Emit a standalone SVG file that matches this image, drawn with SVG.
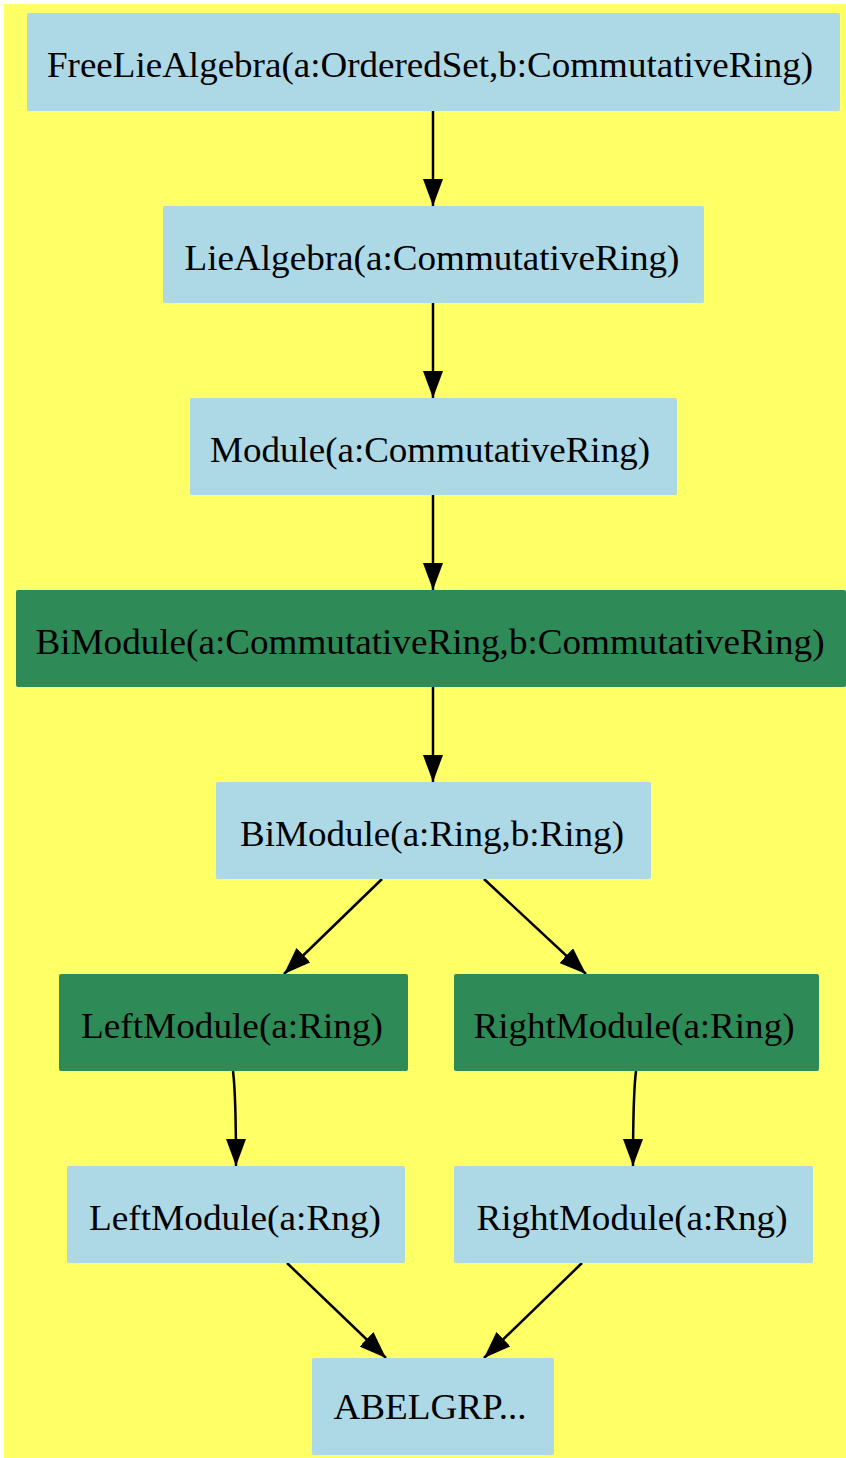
<svg xmlns="http://www.w3.org/2000/svg" width="846" height="1458" viewBox="0 0 846 1458">
<style>
.bg{fill:#ffff66}
.lb{fill:#add8e6}
.sg{fill:#2e8b57}
text{font-family:"Liberation Serif","Times New Roman",serif;font-size:36px;fill:#000;text-anchor:middle}
.e{fill:none;stroke:#000;stroke-width:2.5}
</style>
<defs>
<marker id="ah" viewBox="0 0 27 20" refX="27" refY="10" markerWidth="27" markerHeight="20" markerUnits="userSpaceOnUse" orient="auto">
<path d="M0,0 L27,10 L0,20 Z" fill="#000"/>
</marker>
</defs>
<rect class="bg" x="4" y="4" width="842" height="1454"/>
<g id="edges">
<path class="e" d="M433,111 L433,206" marker-end="url(#ah)"/>
<path class="e" d="M433,303 L433,398" marker-end="url(#ah)"/>
<path class="e" d="M433,495 L433,590" marker-end="url(#ah)"/>
<path class="e" d="M433,687 L433,782" marker-end="url(#ah)"/>
<path class="e" d="M382,879 L284,974" marker-end="url(#ah)"/>
<path class="e" d="M484,879 L586,974" marker-end="url(#ah)"/>
<path class="e" d="M233,1071 C236,1095 236,1130 236,1166" marker-end="url(#ah)"/>
<path class="e" d="M636,1071 C633,1095 633,1130 633,1166" marker-end="url(#ah)"/>
<path class="e" d="M287,1263 L386,1358" marker-end="url(#ah)"/>
<path class="e" d="M582,1263 L484,1358" marker-end="url(#ah)"/>
</g>
<g id="n1"><rect class="lb" x="27" y="13" width="813" height="98" rx="2"/><text x="430" y="77" textLength="766" lengthAdjust="spacingAndGlyphs">FreeLieAlgebra(a:OrderedSet,b:CommutativeRing)</text></g>
<g id="n2"><rect class="lb" x="163" y="206" width="541" height="97" rx="2"/><text x="432" y="270" textLength="495" lengthAdjust="spacingAndGlyphs">LieAlgebra(a:CommutativeRing)</text></g>
<g id="n3"><rect class="lb" x="190" y="398" width="487" height="97" rx="2"/><text x="430" y="462" textLength="440" lengthAdjust="spacingAndGlyphs">Module(a:CommutativeRing)</text></g>
<g id="n4"><rect class="sg" x="16" y="590" width="830" height="97" rx="2"/><text x="430" y="654" textLength="789" lengthAdjust="spacingAndGlyphs">BiModule(a:CommutativeRing,b:CommutativeRing)</text></g>
<g id="n5"><rect class="lb" x="216" y="782" width="435" height="97" rx="2"/><text x="432" y="846" textLength="384" lengthAdjust="spacingAndGlyphs">BiModule(a:Ring,b:Ring)</text></g>
<g id="n6"><rect class="sg" x="59" y="974" width="349" height="97" rx="2"/><text x="232" y="1038" textLength="302" lengthAdjust="spacingAndGlyphs">LeftModule(a:Ring)</text></g>
<g id="n7"><rect class="sg" x="454" y="974" width="365" height="97" rx="2"/><text x="634" y="1038" textLength="321" lengthAdjust="spacingAndGlyphs">RightModule(a:Ring)</text></g>
<g id="n8"><rect class="lb" x="67" y="1166" width="338" height="97" rx="2"/><text x="235" y="1230" textLength="292" lengthAdjust="spacingAndGlyphs">LeftModule(a:Rng)</text></g>
<g id="n9"><rect class="lb" x="454" y="1166" width="359" height="97" rx="2"/><text x="632" y="1230" textLength="311" lengthAdjust="spacingAndGlyphs">RightModule(a:Rng)</text></g>
<g id="n10"><rect class="lb" x="312" y="1358" width="242" height="97" rx="2"/><text x="430" y="1419" textLength="193" lengthAdjust="spacingAndGlyphs">ABELGRP...</text></g>
</svg>
